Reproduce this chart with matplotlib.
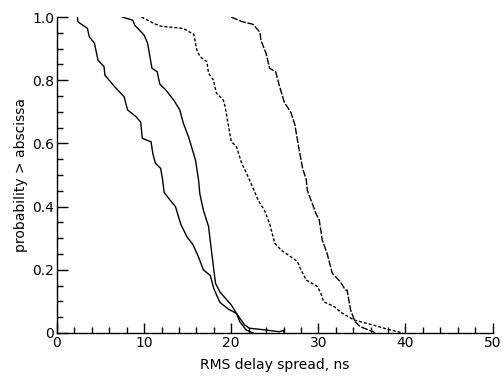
import matplotlib
matplotlib.use("Agg")
import matplotlib.pyplot as plt
from matplotlib.ticker import MultipleLocator

# cumulative distributions: (delay spread ns, P > abscissa)
a_x = [2.35, 2.4, 3.5, 3.7, 4.3, 4.7, 5.4, 5.5, 6.6, 7.7, 8.1, 9.05, 9.6, 9.8,
       10.8, 11.0, 11.3, 11.9, 12.1, 12.3, 13.0, 13.6, 14.2, 14.9, 15.6, 16.25,
       16.8, 17.6, 18.0, 18.7, 19.7, 20.6, 21.55, 22.1, 23.8, 25.5, 26.0, 26.1]
a_p = [1.0, 0.985, 0.964, 0.938, 0.917, 0.864, 0.843, 0.816, 0.78, 0.748, 0.706,
       0.685, 0.668, 0.616, 0.605, 0.568, 0.537, 0.521, 0.489, 0.445, 0.42, 0.40,
       0.345, 0.305, 0.28, 0.24, 0.2, 0.182, 0.14, 0.097, 0.075, 0.062, 0.025,
       0.015, 0.01, 0.004, 0.008, 0.0]

b_x = [7.5, 8.7, 8.9, 10.0, 10.4, 10.9, 11.5, 11.8, 12.5, 13.4, 14.1, 14.5,
       15.1, 15.9, 16.25, 16.4, 16.8, 17.4, 17.6, 18.0, 18.2, 18.7, 20.0, 20.6,
       21.0, 21.7, 22.5]
b_p = [1.0, 0.99, 0.975, 0.943, 0.917, 0.838, 0.827, 0.788, 0.769, 0.737, 0.706,
       0.664, 0.621, 0.547, 0.484, 0.44, 0.389, 0.337, 0.29, 0.2, 0.157, 0.13,
       0.089, 0.062, 0.035, 0.01, 0.0]

c_x = [9.7, 11.1, 11.9, 14.5, 15.7, 16.05, 16.4, 17.2, 17.4, 17.95, 18.3, 19.1,
       19.3, 19.7, 20.0, 20.6, 21.2, 21.9, 23.1, 23.8, 24.4, 25.0, 25.7, 26.85,
       27.6, 28.0, 28.6, 29.9, 30.3, 30.6, 31.8, 32.6, 34.1, 36.3, 38.2, 39.7]
c_p = [1.0, 0.98, 0.971, 0.964, 0.945, 0.896, 0.875, 0.859, 0.822, 0.801, 0.759,
       0.737, 0.716, 0.653, 0.606, 0.59, 0.537, 0.497, 0.42, 0.389, 0.347, 0.284,
       0.263, 0.241, 0.226, 0.2, 0.168, 0.147, 0.125, 0.099, 0.084, 0.065, 0.041,
       0.025, 0.01, 0.0]

d_x = [20.0, 21.2, 22.5, 23.3, 23.4, 24.0, 24.4, 25.1, 25.5, 26.1, 26.85, 27.3,
       27.7, 28.2, 28.6, 28.75, 29.3, 29.7, 30.1, 30.45, 31.0, 31.6, 32.5, 33.1,
       33.3, 33.7, 34.2, 34.8, 36.3, 36.5]
d_p = [1.0, 0.986, 0.977, 0.952, 0.927, 0.885, 0.838, 0.827, 0.785, 0.73, 0.698,
       0.66, 0.595, 0.52, 0.487, 0.45, 0.41, 0.379, 0.358, 0.294, 0.252, 0.189,
       0.163, 0.136, 0.136, 0.073, 0.036, 0.02, 0.004, 0.0]

x_ticks = [0, 10, 20, 30, 40, 50]
x_labels = ["0", "10", "20", "30", "40", "50"]
y_ticks = [0, 0.2, 0.4, 0.6, 0.8, 1.0]
y_labels = ["0", "0.2", "0.4", "0.6", "0.8", "1.0"]

fig = plt.figure(figsize=(5.03, 3.79), dpi=100)
ax = fig.add_axes([0.1133, 0.1214, 0.866, 0.8336])

kw = dict(color="black", lw=1.0)
ax.plot(a_x, a_p, **kw)
ax.plot(b_x, b_p, **kw)
ax.plot(c_x, c_p, dashes=(2.2, 1.4), **kw)
ax.plot(d_x, d_p, dashes=(5, 1.2), **kw)

ax.spines["top"].set_visible(False)
ax.spines["right"].set_visible(False)
for s in ("left", "bottom"):
    ax.spines[s].set_linewidth(1.0)

ax.set_xticks(x_ticks)
ax.set_xticklabels(x_labels)
ax.set_yticks(y_ticks)
ax.set_yticklabels(y_labels)
ax.xaxis.set_minor_locator(MultipleLocator(2))
ax.yaxis.set_minor_locator(MultipleLocator(0.05))
ax.set_xlim(0, 50)
ax.set_ylim(0, 1.0)
ax.tick_params(which="both", direction="in", width=1.0, labelsize=10, pad=2)
ax.tick_params(axis="y", which="major", length=8)
ax.tick_params(axis="x", which="major", length=7)
ax.tick_params(which="minor", length=4)

ax.set_xlabel("RMS delay spread, ns", fontsize=10, labelpad=6)
ax.set_ylabel("probability > abscissa", fontsize=10, labelpad=3)

fig.savefig("out.png", dpi=100)
